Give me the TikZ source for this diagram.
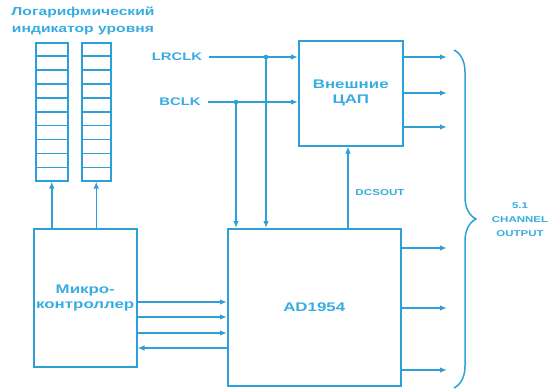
\documentclass[tikz,border=0pt]{standalone}
\usepackage{fontspec}
\newfontfamily\lab[FakeStretch=1.35]{Liberation Sans}
\usetikzlibrary{arrows.meta,decorations.pathreplacing,calc}
\definecolor{ln}{RGB}{45,160,215}
\definecolor{tx}{RGB}{55,172,226}
\begin{document}
\begin{tikzpicture}[x=1pt,y=-1pt,
  box/.style={draw=ln, line width=1.5pt, inner sep=0pt, anchor=north west, text=tx,
    font=\lab\bfseries\fontsize{12.5}{15}\selectfont, align=center},
  arr/.style={-{Latex[length=7pt,width=5.5pt]}, draw=ln, line width=1.5pt},
  plain/.style={draw=ln, line width=1.5pt},
  lbl/.style={text=tx, font=\lab\bfseries\fontsize{11}{14}\selectfont, align=center, inner sep=0pt},
  small/.style={text=tx, font=\lab\bfseries\fontsize{8.5}{14}\selectfont, align=center, inner sep=0pt}]
\useasboundingbox (0,0) rectangle (559,388);

% title
\node[lbl, font=\lab\bfseries\fontsize{11.6}{17}\selectfont] (title) at (83,21) {Логарифмический\\индикатор уровня};

% level bars
\node[box, minimum width=32pt, minimum height=138pt] (bar1) at (35,42) {};
\node[box, minimum width=29pt, minimum height=138pt] (bar2) at (81,42) {};
\foreach \b in {bar1,bar2}{
  \foreach \i in {1,...,9}{
    \draw[plain] ($(\b.north west)!\i/10!(\b.south west)$) -- ($(\b.north east)!\i/10!(\b.south east)$);
  }
}

% blocks
\node[box, minimum width=103pt, minimum height=138pt] (mc) at (33,228) {Микро-\\контроллер};
\node[box, minimum width=173pt, minimum height=157pt] (ad) at (227,228) {AD1954};
\node[box, minimum width=104pt, minimum height=105pt] (dac) at (298,40) {Внешние\\ЦАП};

% micro -> bars
\draw[arr] (mc.north -| bar1.south) -- (bar1.south);
\draw[arr] (mc.north -| bar2.south) -- (bar2.south);

% micro <-> AD1954
\coordinate (y1) at (0,302);
\coordinate (y2) at (0,317);
\coordinate (y3) at (0,333);
\coordinate (y4) at (0,348);
\draw[arr] (mc.east |- y1) -- (ad.west |- y1);
\draw[arr] (mc.east |- y2) -- (ad.west |- y2);
\draw[arr] (mc.east |- y3) -- (ad.west |- y3);
\draw[arr] (ad.west |- y4) -- (mc.east |- y4);

% clocks
\node[lbl] (lr) at (177,57) {LRCLK};
\node[lbl] (bc) at (180,102) {BCLK};
\coordinate (j1) at (266,57);
\coordinate (j2) at (236,102);
\draw[arr] ([xshift=7pt]lr.east) -- (dac.west |- lr);
\draw[arr] ([xshift=7pt]bc.east) -- (dac.west |- bc);
\fill[ln] (j1) circle (2.3pt);
\fill[ln] (j2) circle (2.3pt);
\draw[arr] (j1) -- (ad.north -| j1);
\draw[arr] (j2) -- (ad.north -| j2);

% DCSOUT
\coordinate (dcx) at (348,0);
\draw[arr] (ad.north -| dcx) -- (dac.south -| dcx);
\node[small, font=\lab\bfseries\fontsize{8.6}{12}\selectfont] (dcs) at (380,193) {DCSOUT};

% outputs
\foreach \y [count=\k] in {57,93,127}{
  \coordinate (o\k) at (447,\y);
  \draw[arr] (dac.east |- o\k) -- (o\k);
}
\foreach \y [count=\k from 4] in {248,308,370}{
  \coordinate (o\k) at (447,\y);
  \draw[arr] (ad.east |- o\k) -- (o\k);
}

% brace and label
\coordinate (bt) at (454,50);
\coordinate (bb) at (454,388);
\draw[plain, decorate, decoration={brace, amplitude=22pt}] (bt) -- (bb);
\node[small] (out) at (520,220) {5.1\\CHANNEL\\OUTPUT};
\end{tikzpicture}
\end{document}
